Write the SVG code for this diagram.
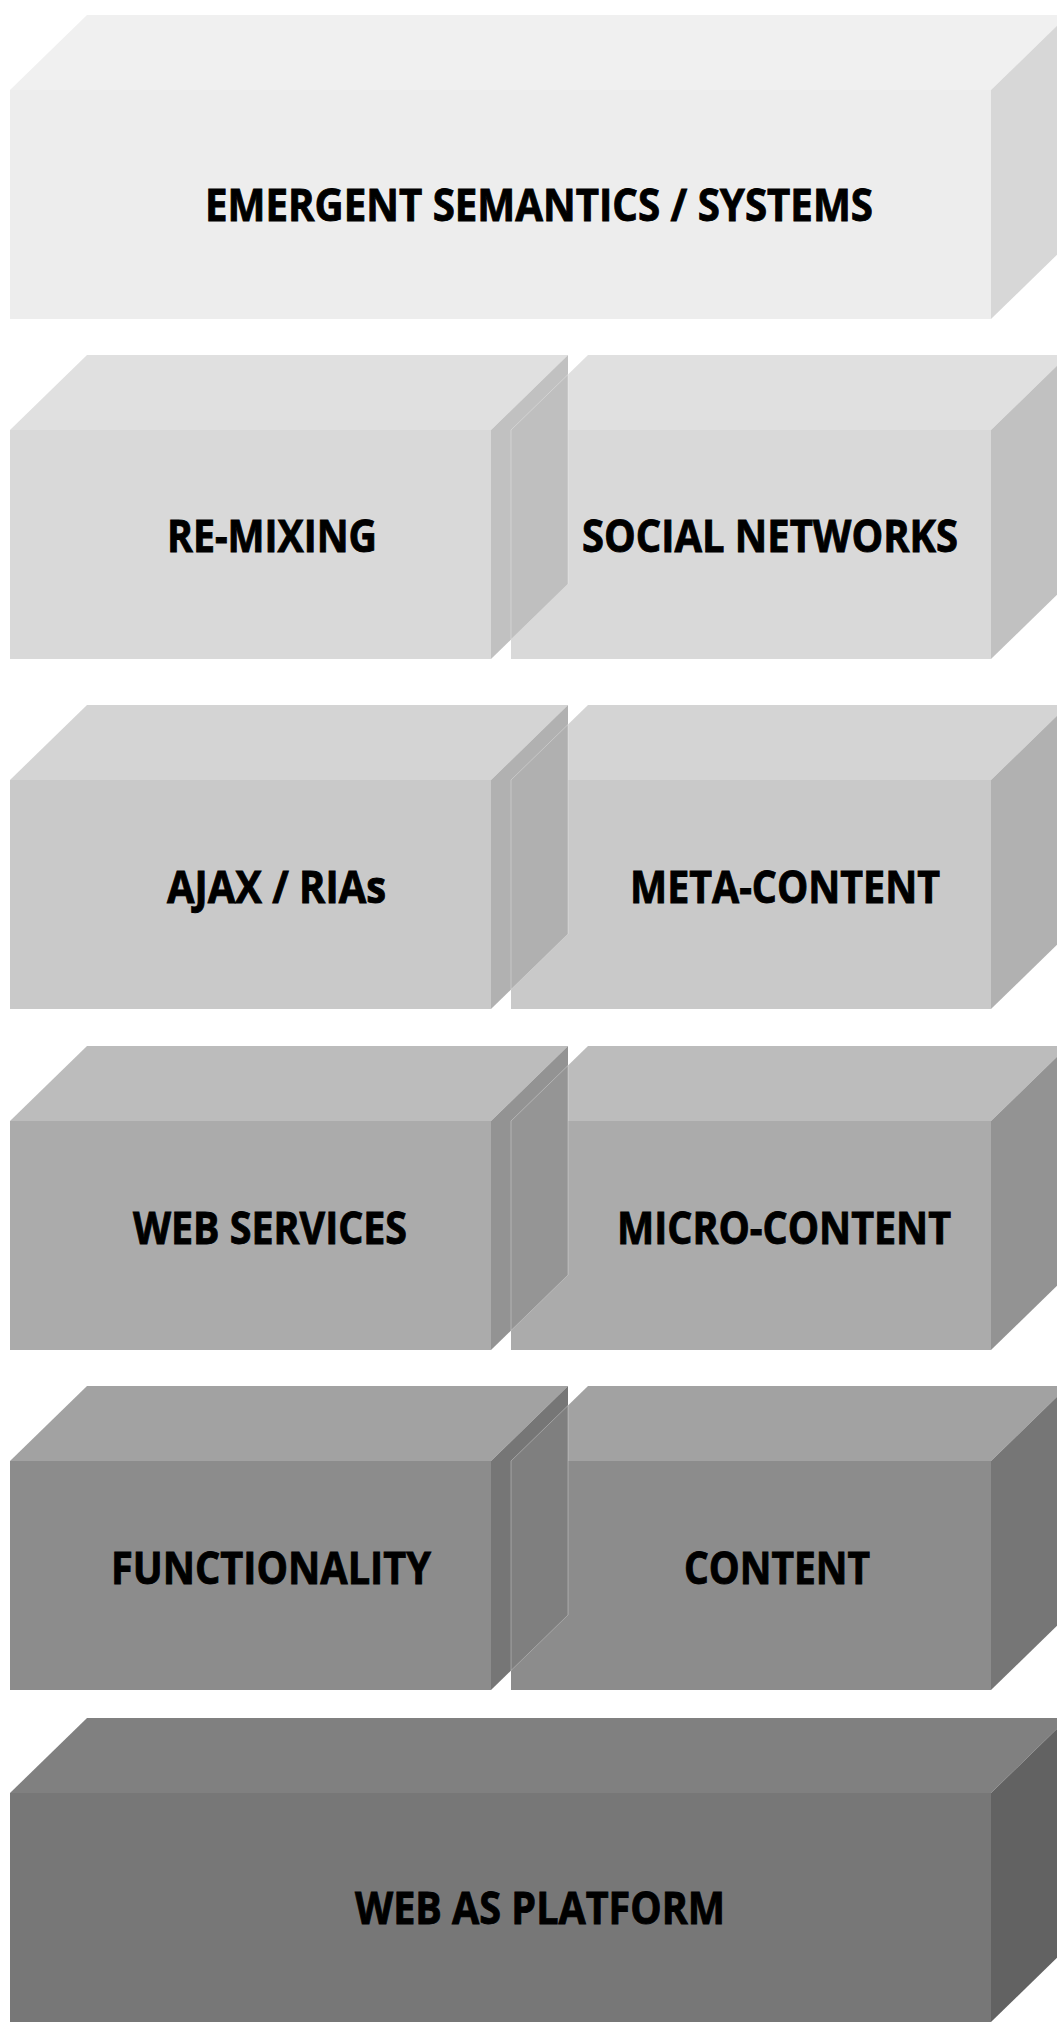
<svg xmlns="http://www.w3.org/2000/svg" width="1057" height="2022" viewBox="0 0 1057 2022">
<style>
text{font-family:"Open Sans","Liberation Sans",Arial,sans-serif;font-weight:bold;font-size:45px;fill:#000;stroke:#000;stroke-width:0.9px}
.r1 .top{fill:#f0f0f0}.r1 .front{fill:#ededed}.r1 .side{fill:#d7d7d7}
.r2 .top{fill:#e0e0e0}.r2 .front{fill:#d9d9d9}.r2 .side{fill:#c1c1c1}.r2 .ov{fill:#bfbfbf}
.r3 .top{fill:#d4d4d4}.r3 .front{fill:#c9c9c9}.r3 .side{fill:#b1b1b1}.r3 .ov{fill:#b0b0b0}
.r4 .top{fill:#bcbcbc}.r4 .front{fill:#ababab}.r4 .side{fill:#939393}.r4 .ov{fill:#959595}
.r5 .top{fill:#a2a2a2}.r5 .front{fill:#8c8c8c}.r5 .side{fill:#767676}.r5 .ov{fill:#7f7f7f}
.r6 .top{fill:#808080}.r6 .front{fill:#777777}.r6 .side{fill:#626262}
.ov{stroke:#ffffff;stroke-opacity:0.3;stroke-width:1}
</style>
<defs>
<path id="fullTop" d="M10,0 L87,-75 L1068,-75 L991,0 Z"/>
<path id="leftTop" d="M10,0 L87,-75 L568,-75 L491,0 Z"/>
<path id="leftSide" d="M491,0 L568,-75 L568,154 L491,229 Z"/>
<path id="rightTop" d="M511,0 L588,-75 L1068,-75 L991,0 Z"/>
<path id="rightSide" d="M991,0 L1068,-75 L1068,154 L991,229 Z"/>
<path id="overlap" d="M511,0 L568,-55.5 L568,154 L511,209.5 Z"/>
</defs>

<g id="emergent-semantics" class="r1" transform="translate(0,90)">
<use href="#fullTop" class="top"/>
<rect class="front" x="10" y="0" width="981" height="229"/>
<use href="#rightSide" class="side"/>
<text x="205" y="131" textLength="668" lengthAdjust="spacingAndGlyphs">EMERGENT SEMANTICS / SYSTEMS</text>
</g>

<g class="r2" transform="translate(0,430)">
<g id="social-networks">
<use href="#rightTop" class="top"/>
<rect class="front" x="511" y="0" width="480" height="229"/>
<use href="#rightSide" class="side"/>
<text x="582" y="122" textLength="376" lengthAdjust="spacingAndGlyphs">SOCIAL NETWORKS</text>
</g>
<g id="re-mixing">
<use href="#leftTop" class="top"/>
<rect class="front" x="10" y="0" width="481" height="229"/>
<use href="#leftSide" class="side"/>
<use href="#overlap" class="ov"/>
<text x="167" y="122" textLength="210" lengthAdjust="spacingAndGlyphs">RE-MIXING</text>
</g>
</g>

<g class="r3" transform="translate(0,780)">
<g id="meta-content">
<use href="#rightTop" class="top"/>
<rect class="front" x="511" y="0" width="480" height="229"/>
<use href="#rightSide" class="side"/>
<text x="630" y="123" textLength="310" lengthAdjust="spacingAndGlyphs">META-CONTENT</text>
</g>
<g id="ajax-rias">
<use href="#leftTop" class="top"/>
<rect class="front" x="10" y="0" width="481" height="229"/>
<use href="#leftSide" class="side"/>
<use href="#overlap" class="ov"/>
<text x="167" y="123" textLength="219" lengthAdjust="spacingAndGlyphs">AJAX / RIAs</text>
</g>
</g>

<g class="r4" transform="translate(0,1121)">
<g id="micro-content">
<use href="#rightTop" class="top"/>
<rect class="front" x="511" y="0" width="480" height="229"/>
<use href="#rightSide" class="side"/>
<text x="617" y="123" textLength="334" lengthAdjust="spacingAndGlyphs">MICRO-CONTENT</text>
</g>
<g id="web-services">
<use href="#leftTop" class="top"/>
<rect class="front" x="10" y="0" width="481" height="229"/>
<use href="#leftSide" class="side"/>
<use href="#overlap" class="ov"/>
<text x="133" y="123" textLength="274" lengthAdjust="spacingAndGlyphs">WEB SERVICES</text>
</g>
</g>

<g class="r5" transform="translate(0,1461)">
<g id="content">
<use href="#rightTop" class="top"/>
<rect class="front" x="511" y="0" width="480" height="229"/>
<use href="#rightSide" class="side"/>
<text x="684" y="123" textLength="186" lengthAdjust="spacingAndGlyphs">CONTENT</text>
</g>
<g id="functionality">
<use href="#leftTop" class="top"/>
<rect class="front" x="10" y="0" width="481" height="229"/>
<use href="#leftSide" class="side"/>
<use href="#overlap" class="ov"/>
<text x="111" y="123" textLength="320" lengthAdjust="spacingAndGlyphs">FUNCTIONALITY</text>
</g>
</g>

<g id="web-as-platform" class="r6" transform="translate(0,1793)">
<use href="#fullTop" class="top"/>
<rect class="front" x="10" y="0" width="981" height="232"/>
<use href="#rightSide" class="side"/>
<text x="355" y="131" textLength="370" lengthAdjust="spacingAndGlyphs">WEB AS PLATFORM</text>
</g>

<g id="connectors"/>
</svg>
